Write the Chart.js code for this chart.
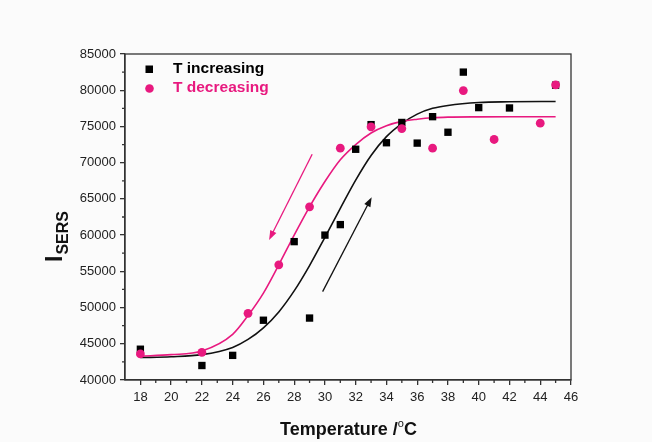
<!DOCTYPE html>
<html>
<head>
<meta charset="utf-8">
<script src="https://cdn.jsdelivr.net/npm/chart.js@4/dist/chart.umd.min.js"></script>
<style>
  html, body { margin: 0; padding: 0; background: #fbfbfb; }
  #wrap { width: 652px; height: 442px; }
</style>
</head>
<body>
<div id="wrap"><canvas id="sersChart"></canvas></div>
<script>
// Messpunkte
const tempIncreasing = [18, 22, 24, 26, 28, 29, 30, 31, 32, 33, 34, 35, 36, 37, 38, 39, 40, 42, 45];
const sersIncreasing = [44250, 42000, 43400, 48250, 59100, 48550, 60000, 61450, 71850, 75250, 72750, 75550, 72700, 76350, 74200, 82500, 77600, 77550, 80700];
const tempDecreasing = [18, 22, 25, 27, 29, 31, 33, 35, 37, 39, 41, 44, 45];
const sersDecreasing = [43600, 43800, 49200, 55900, 63900, 72000, 74950, 74700, 72000, 79950, 73200, 75450, 80750];

// Fit-Kurven
const fitTemps = [18, 20, 22, 24, 25, 26, 27, 28, 29, 30, 31, 32, 33, 34, 35, 36, 37, 38, 40, 42, 45];
const fitIncreasing = [43100, 43200, 43500, 44500, 45600, 47200, 49400, 52300, 55800, 59700, 63700, 67600, 71000, 73600, 75400, 76700, 77500, 77900, 78300, 78400, 78450];
const fitDecreasing = [43300, 43500, 44000, 46300, 48900, 52000, 55900, 60000, 63900, 67400, 70400, 72500, 74100, 75100, 75700, 76000, 76200, 76280, 76320, 76330, 76330];

// Pfeile: [x1, y1, x2, y2] in Datenkoordinaten
const arrowDecreasing = [29.17, 71170, 26.37, 59340];
const arrowIncreasing = [29.85, 52200, 33.04, 65230];

// Achsen
const xTicks = [18, 20, 22, 24, 26, 28, 30, 32, 34, 36, 38, 40, 42, 44, 46];
const yTicks = [40000, 45000, 50000, 55000, 60000, 65000, 70000, 75000, 80000, 85000];
const xMinorTicks = [19, 21, 23, 25, 27, 29, 31, 33, 35, 37, 39, 41, 43, 45];
const yMinorTicks = [42500, 47500, 52500, 57500, 62500, 67500, 72500, 77500, 82500];

const pink = '#e8197f';
const font = 'Liberation Sans, Arial, sans-serif';

function toPoints(xs, ys) {
    return xs.map((x, i) => ({ x: x, y: ys[i] }));
}

function drawArrow(ctx, xs, ys, a, color) {
    const x1 = xs.getPixelForValue(a[0]), y1 = ys.getPixelForValue(a[1]);
    const x2 = xs.getPixelForValue(a[2]), y2 = ys.getPixelForValue(a[3]);
    const ang = Math.atan2(y2 - y1, x2 - x1);
    ctx.save();
    ctx.strokeStyle = color;
    ctx.fillStyle = color;
    ctx.lineWidth = 1.3;
    ctx.beginPath();
    ctx.moveTo(x1, y1);
    ctx.lineTo(x2 - 6 * Math.cos(ang), y2 - 6 * Math.sin(ang));
    ctx.stroke();
    ctx.beginPath();
    ctx.moveTo(x2, y2);
    ctx.lineTo(x2 - 10 * Math.cos(ang - 0.35), y2 - 10 * Math.sin(ang - 0.35));
    ctx.lineTo(x2 - 10 * Math.cos(ang + 0.35), y2 - 10 * Math.sin(ang + 0.35));
    ctx.closePath();
    ctx.fill();
    ctx.restore();
}

const extrasPlugin = {
    id: 'extras',
    afterDraw(chart) {
        const ctx = chart.ctx;
        const area = chart.chartArea;
        const xs = chart.scales.x, ys = chart.scales.y;

        // Rahmen oben/rechts
        ctx.save();
        ctx.strokeStyle = '#333';
        ctx.lineWidth = 1.3;
        ctx.strokeRect(area.left, area.top, area.right - area.left, area.bottom - area.top);

        // Nebenstriche
        ctx.beginPath();
        xMinorTicks.forEach(v => {
            const px = xs.getPixelForValue(v);
            ctx.moveTo(px, area.bottom);
            ctx.lineTo(px, area.bottom + 3);
        });
        yMinorTicks.forEach(v => {
            const py = ys.getPixelForValue(v);
            ctx.moveTo(area.left, py);
            ctx.lineTo(area.left - 3, py);
        });
        ctx.stroke();
        ctx.restore();

        drawArrow(ctx, xs, ys, arrowDecreasing, pink);
        drawArrow(ctx, xs, ys, arrowIncreasing, '#111');

        // Legende
        ctx.save();
        ctx.font = 'bold 15.5px ' + font;
        ctx.textBaseline = 'middle';
        ctx.fillStyle = '#000';
        ctx.fillRect(145.5, 65.5, 7.5, 7.5);
        ctx.fillText(chart.data.datasets[2].label, 173, 69);
        ctx.fillStyle = pink;
        ctx.beginPath();
        ctx.arc(149.5, 88.5, 4.3, 0, Math.PI * 2);
        ctx.fill();
        ctx.fillText(chart.data.datasets[3].label, 173, 88);

        // x-Achsentitel
        ctx.fillStyle = '#111';
        ctx.textBaseline = 'alphabetic';
        const t1 = 'Temperature /', t2 = 'o', t3 = 'C';
        ctx.font = 'bold 18px ' + font;
        const w1 = ctx.measureText(t1).width;
        const w3 = ctx.measureText(t3).width;
        ctx.font = 'normal 11px ' + font;
        const w2 = ctx.measureText(t2).width;
        let sx = 348.5 - (w1 + w2 + w3) / 2;
        ctx.font = 'bold 18px ' + font;
        ctx.fillText(t1, sx, 435);
        ctx.fillText(t3, sx + w1 + w2, 435);
        ctx.font = 'normal 11px ' + font;
        ctx.fillText(t2, sx + w1, 427);

        // y-Achsentitel I_SERS
        ctx.translate(62, 237);
        ctx.rotate(-Math.PI / 2);
        ctx.font = 'bold 23px ' + font;
        const wi = ctx.measureText('I').width;
        ctx.font = 'bold 16px ' + font;
        const ws = ctx.measureText('SERS').width;
        const ox = -(wi + ws) / 2;
        ctx.font = 'bold 23px ' + font;
        ctx.fillText('I', ox, 0);
        ctx.font = 'bold 16px ' + font;
        ctx.fillText('SERS', ox + wi + 1, 6);
        ctx.restore();
    }
};

const ctx = document.getElementById('sersChart').getContext('2d');
new Chart(ctx, {
    type: 'scatter',
    data: {
        datasets: [
            {
                label: 'Fit increasing',
                data: toPoints(fitTemps, fitIncreasing),
                showLine: true,
                borderColor: '#111',
                borderWidth: 1.6,
                pointRadius: 0,
                cubicInterpolationMode: 'monotone',
                order: 3
            },
            {
                label: 'Fit decreasing',
                data: toPoints(fitTemps, fitDecreasing),
                showLine: true,
                borderColor: pink,
                borderWidth: 1.6,
                pointRadius: 0,
                cubicInterpolationMode: 'monotone',
                order: 2
            },
            {
                label: 'T increasing',
                data: toPoints(tempIncreasing, sersIncreasing),
                pointStyle: 'rect',
                pointRadius: 5.2,
                backgroundColor: '#000',
                borderColor: '#000',
                borderWidth: 0,
                order: 1
            },
            {
                label: 'T decreasing',
                data: toPoints(tempDecreasing, sersDecreasing),
                pointStyle: 'circle',
                pointRadius: 4.4,
                backgroundColor: pink,
                borderColor: pink,
                borderWidth: 0,
                order: 0
            }
        ]
    },
    options: {
        responsive: true,
        maintainAspectRatio: false,
        animation: false,
        layout: { padding: { top: 54, right: 81, left: 0, bottom: 0 } },
        plugins: {
            legend: { display: false },
            tooltip: { enabled: false }
        },
        scales: {
            x: {
                type: 'linear',
                min: 17,
                max: 46,
                afterBuildTicks: s => { s.ticks = xTicks.map(v => ({ value: v })); },
                afterFit: s => { s.height = 62; },
                grid: { drawOnChartArea: false, tickLength: 5, color: '#333', lineWidth: 1.3 },
                border: { color: '#333', width: 1.3 },
                ticks: { color: '#222', font: { family: font, size: 13 }, padding: 5, maxRotation: 0,
                         callback: v => String(v) }
            },
            y: {
                type: 'linear',
                min: 40000,
                max: 85000,
                afterBuildTicks: s => { s.ticks = yTicks.map(v => ({ value: v })); },
                afterFit: s => { s.width = 125; },
                grid: { drawOnChartArea: false, tickLength: 5, color: '#333', lineWidth: 1.3 },
                border: { color: '#333', width: 1.3 },
                ticks: { color: '#222', font: { family: font, size: 13 }, padding: 4,
                         callback: v => String(v) }
            }
        }
    },
    plugins: [extrasPlugin]
});
</script>
</body>
</html>
